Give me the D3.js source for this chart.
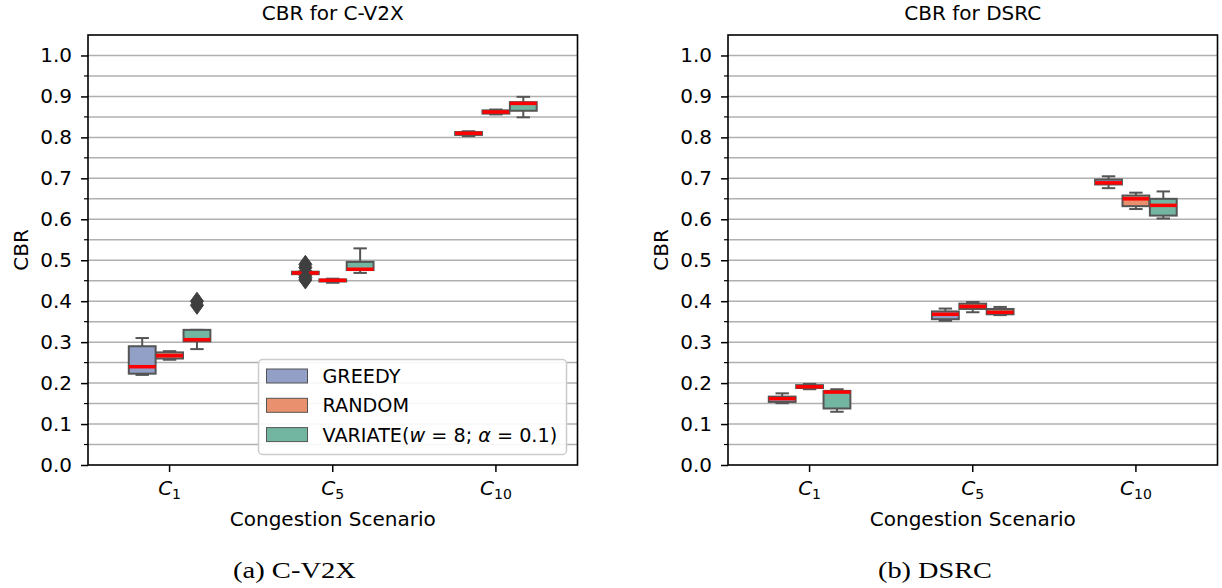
<!DOCTYPE html>
<html>
<head>
<meta charset="utf-8">
<script src="https://cdn.jsdelivr.net/npm/d3@7"></script>
<style>
  html, body { margin: 0; padding: 0; background: #fff; }
  svg { display: block; }
  text { font-family: "DejaVu Sans", sans-serif; fill: #000; }
  text.caption { font-family: "Liberation Serif", "DejaVu Serif", serif; }
</style>
</head>
<body>
<svg id="fig" width="1222" height="588"></svg>
<script>
// Congestion scenarios (subscript of C) and access methods
const scenarios = ["1", "5", "10"];
const methods = ["GREEDY", "RANDOM", "VARIATE"];
const yTicks = [0.0, 0.1, 0.2, 0.3, 0.4, 0.5, 0.6, 0.7, 0.8, 0.9, 1.0];

// Five-number summaries [min, q1, median, q3, max] per scenario — C-V2X
const cv2xGreedy  = [[0.220, 0.223, 0.240, 0.290, 0.310], [0.463, 0.466, 0.469, 0.472, 0.474], [0.803, 0.806, 0.810, 0.813, 0.815]];
const cv2xRandom  = [[0.257, 0.260, 0.267, 0.275, 0.278], [0.445, 0.448, 0.451, 0.453, 0.455], [0.856, 0.858, 0.862, 0.866, 0.868]];
const cv2xVariate = [[0.283, 0.302, 0.306, 0.330, 0.330], [0.469, 0.476, 0.478, 0.496, 0.529], [0.849, 0.865, 0.883, 0.886, 0.899]];
// Outliers per scenario — C-V2X
const cv2xGreedyOut  = [[], [0.452, 0.458, 0.482, 0.490], []];
const cv2xRandomOut  = [[], [], []];
const cv2xVariateOut = [[0.390, 0.400], [], []];

// Five-number summaries per scenario — DSRC
const dsrcGreedy  = [[0.151, 0.154, 0.162, 0.167, 0.175], [0.352, 0.356, 0.368, 0.375, 0.382], [0.676, 0.685, 0.689, 0.697, 0.705]];
const dsrcRandom  = [[0.185, 0.188, 0.191, 0.195, 0.198], [0.373, 0.381, 0.387, 0.394, 0.398], [0.625, 0.632, 0.650, 0.658, 0.665]];
const dsrcVariate = [[0.130, 0.138, 0.178, 0.181, 0.185], [0.366, 0.368, 0.373, 0.381, 0.386], [0.602, 0.609, 0.634, 0.650, 0.668]];
const dsrcOut = [[], [], []];

const colors = ["#929fc6", "#e9916f", "#72b6a1"];
const edge = "#555555";
const FS = 20;

const svg = d3.select("#fig");

function drawPanel(opts) {
  const { left, right, top, bottom, title, stats, outliers, legend } = opts;
  const g = svg.append("g");

  const x = d3.scaleBand().domain(scenarios).range([left, right]).padding(0);
  const inner = d3.scaleBand().domain(methods)
    .range([0, x.bandwidth() * 0.5]).paddingInner(0.02);
  const y = d3.scaleLinear().domain([0, 1.05]).range([bottom, top]);

  // Horizontal grid at every 0.05
  const gridVals = d3.range(1, 21).map(i => i * 0.05);
  g.append("g").selectAll("line").data(gridVals).join("line")
    .attr("x1", left).attr("x2", right)
    .attr("y1", d => y(d)).attr("y2", d => y(d))
    .attr("stroke", "#b0b0b0").attr("stroke-width", 1.5);

  // Boxes
  methods.forEach((m, mi) => {
    scenarios.forEach((s, si) => {
      const [mn, q1, md, q3, mx] = stats[mi][si];
      const bx = x(s) + x.bandwidth() * 0.25 + inner(m);
      const bw = inner.bandwidth();
      const cx = bx + bw / 2;
      const bg = g.append("g");
      // whiskers
      bg.append("line").attr("x1", cx).attr("x2", cx).attr("y1", y(q3)).attr("y2", y(mx))
        .attr("stroke", edge).attr("stroke-width", 2);
      bg.append("line").attr("x1", cx).attr("x2", cx).attr("y1", y(q1)).attr("y2", y(mn))
        .attr("stroke", edge).attr("stroke-width", 2);
      // caps
      [mn, mx].forEach(v => {
        bg.append("line").attr("x1", cx - bw / 4).attr("x2", cx + bw / 4)
          .attr("y1", y(v)).attr("y2", y(v))
          .attr("stroke", edge).attr("stroke-width", 2);
      });
      // box
      bg.append("rect").attr("x", bx).attr("width", bw)
        .attr("y", y(q3)).attr("height", Math.max(0, y(q1) - y(q3)))
        .attr("fill", colors[mi]).attr("stroke", edge).attr("stroke-width", 2);
      // median
      bg.append("line").attr("x1", bx).attr("x2", bx + bw)
        .attr("y1", y(md)).attr("y2", y(md))
        .attr("stroke", "#ff0000").attr("stroke-width", 3.5);
      // outliers (thin diamonds)
      outliers[mi][si].forEach(v => {
        const py = y(v);
        bg.append("path")
          .attr("d", `M${cx},${py - 9} L${cx + 6.5},${py} L${cx},${py + 9} L${cx - 6.5},${py} Z`)
          .attr("fill", "#3f3f3f").attr("stroke", "#3f3f3f").attr("stroke-width", 1);
      });
    });
  });

  // Spines
  g.append("rect").attr("x", left).attr("y", top)
    .attr("width", right - left).attr("height", bottom - top)
    .attr("fill", "none").attr("stroke", "#000").attr("stroke-width", 1.6);

  // Y axis
  const yAxis = d3.axisLeft(y).tickValues(yTicks).tickFormat(d3.format(".1f"))
    .tickSize(7).tickPadding(9);
  const ya = g.append("g").attr("transform", `translate(${left},0)`).call(yAxis);
  ya.select(".domain").remove();
  ya.selectAll(".tick line").attr("stroke", "#000").attr("stroke-width", 1.5);
  ya.selectAll(".tick text").attr("font-size", FS);
  // minor ticks
  const minor = d3.range(0, 21).map(i => i * 0.05 + 0.05).filter((d, i) => i % 2 === 0 && d < 1.05);
  g.append("g").selectAll("line").data(minor).join("line")
    .attr("x1", left - 4).attr("x2", left)
    .attr("y1", d => y(d)).attr("y2", d => y(d))
    .attr("stroke", "#000").attr("stroke-width", 1.2);

  // X axis ticks and math labels
  const xa = g.append("g");
  scenarios.forEach(s => {
    const cx = x(s) + x.bandwidth() / 2;
    xa.append("line").attr("x1", cx).attr("x2", cx).attr("y1", bottom).attr("y2", bottom + 7)
      .attr("stroke", "#000").attr("stroke-width", 1.5);
    const t = xa.append("text").attr("x", cx).attr("y", bottom + 30)
      .attr("text-anchor", "middle").attr("font-size", FS);
    t.append("tspan").attr("font-style", "italic").text("C");
    t.append("tspan").attr("font-size", 14).attr("dy", 4).text(s);
  });

  // Labels and title
  g.append("text").attr("x", (left + right) / 2).attr("y", bottom + 61)
    .attr("text-anchor", "middle").attr("font-size", FS).text("Congestion Scenario");
  g.append("text").attr("transform", `translate(${left - 60},${(top + bottom) / 2}) rotate(-90)`)
    .attr("text-anchor", "middle").attr("font-size", FS).text("CBR");
  g.append("text").attr("x", (left + right) / 2).attr("y", top - 15)
    .attr("text-anchor", "middle").attr("font-size", FS).text(title);

  if (legend) {
    const lg = g.append("g").attr("transform", "translate(258.5,359.5)");
    lg.append("rect").attr("width", 308).attr("height", 95).attr("rx", 4)
      .attr("fill", "#fff").attr("fill-opacity", 0.9)
      .attr("stroke", "#cccccc").attr("stroke-width", 1.5);
    methods.forEach((m, i) => {
      const ry = 16.5 + i * 29.3;
      lg.append("rect").attr("x", 8).attr("y", ry - 7).attr("width", 41).attr("height", 14)
        .attr("fill", colors[i]).attr("stroke", edge).attr("stroke-width", 1);
      const t = lg.append("text").attr("x", 64).attr("y", ry + 7).attr("font-size", 19.2);
      if (m === "VARIATE") {
        t.append("tspan").text("VARIATE(");
        t.append("tspan").attr("font-style", "italic").text("w");
        t.append("tspan").text(" = 8; ");
        t.append("tspan").attr("font-style", "italic").text("α");
        t.append("tspan").text(" = 0.1)");
      } else {
        t.text(m);
      }
    });
  }
}

drawPanel({
  left: 88, right: 577.5, top: 35, bottom: 465,
  title: "CBR for C-V2X",
  stats: [cv2xGreedy, cv2xRandom, cv2xVariate],
  outliers: [cv2xGreedyOut, cv2xRandomOut, cv2xVariateOut],
  legend: true
});
drawPanel({
  left: 728, right: 1217.5, top: 35, bottom: 465,
  title: "CBR for DSRC",
  stats: [dsrcGreedy, dsrcRandom, dsrcVariate],
  outliers: [dsrcOut, dsrcOut, dsrcOut],
  legend: false
});

// Sub-figure captions
svg.append("text").attr("class", "caption").attr("x", 294.5).attr("y", 578).attr("text-anchor", "middle")
  .attr("font-size", 23).attr("textLength", 123).attr("lengthAdjust", "spacingAndGlyphs")
  .text("(a) C-V2X");
svg.append("text").attr("class", "caption").attr("x", 935).attr("y", 578).attr("text-anchor", "middle")
  .attr("font-size", 23).attr("textLength", 114).attr("lengthAdjust", "spacingAndGlyphs")
  .text("(b) DSRC");
</script>
</body>
</html>
